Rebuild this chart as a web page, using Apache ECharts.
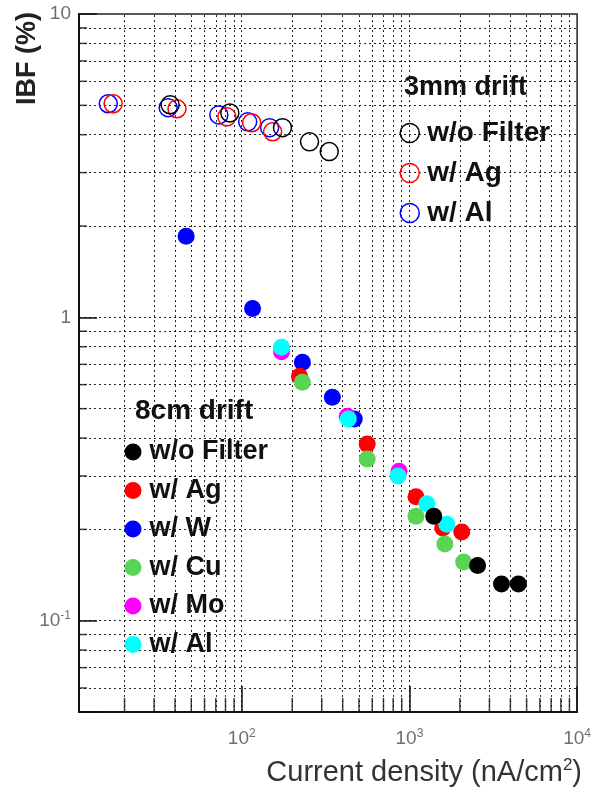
<!DOCTYPE html>
<html><head><meta charset="utf-8">
<script src="https://cdn.jsdelivr.net/npm/echarts@6/dist/echarts.min.js"></script>
<style>html,body{margin:0;padding:0;background:#fff}#c{width:594px;height:792px}</style>
</head><body><div id="c"></div>
<script>
// ---- axis ranges ----
const X_MIN = 10.7, X_MAX = 10000;
const Y_MIN = 0.05, Y_MAX = 10;

// ---- grid / tick values ----
const xMinorTicks = [20,30,40,50,60,70,80,90,200,300,400,500,600,700,800,900,2000,3000,4000,5000,6000,7000,8000,9000];
const xMajorTicks = [100,1000];
const yMinorTicks = [0.06,0.07,0.08,0.09,0.2,0.3,0.4,0.5,0.6,0.7,0.8,0.9,2,3,4,5,6,7,8,9];
const yMajorTicks = [0.1,1];

// ---- 3mm drift (open circles) ----
const mm3NoFilterX = [37.4, 84.9, 175, 253.6, 332.5];
const mm3NoFilterY = [5.02, 4.72, 4.22, 3.79, 3.52];
const mm3AgX = [17.1, 41.1, 81.5, 114.6, 152.8];
const mm3AgY = [5.06, 4.87, 4.58, 4.38, 4.09];
const mm3AlX = [16.0, 36.4, 73.0, 108.5, 146.6];
const mm3AlY = [5.06, 4.91, 4.65, 4.41, 4.22];

// ---- 8cm drift (filled circles) ----
const cm8NoFilterX = [1397, 2551, 3540, 4467];
const cm8NoFilterY = [0.221, 0.152, 0.132, 0.132];
const cm8AgX = [221, 560, 1094, 1581, 2051];
const cm8AgY = [0.64, 0.382, 0.256, 0.202, 0.196];
const cm8WX = [46.6, 116, 230, 347, 469];
const cm8WY = [1.85, 1.07, 0.711, 0.545, 0.462];
const cm8CuX = [230, 560, 1094, 1626, 2105];
const cm8CuY = [0.611, 0.341, 0.221, 0.179, 0.156];
const cm8MoX = [172.6, 426, 867];
const cm8MoY = [0.77, 0.472, 0.311];
const cm8AlX = [172.6, 432, 855, 1271, 1671];
const cm8AlY = [0.797, 0.462, 0.300, 0.243, 0.208];

const FONT = '"Liberation Sans", Arial, Helvetica, sans-serif';
const GREEN = '#59d454';

function zip(xs, ys){ return xs.map((x,i)=>[x, ys[i]]); }
function powLabel(v){
  const l = Math.log10(v), e = Math.round(l);
  if (Math.abs(l - e) > 1e-6) return '';
  if (e === 0) return '1';
  if (e === 1) return '10';
  return '10{sup|' + e + '}';
}

function openSeries(name, color, xs, ys){
  return { name: name, type: 'scatter', symbol: 'circle', symbolSize: 18, clip: false,
    itemStyle: { color: 'rgba(0,0,0,0)', borderColor: color, borderWidth: 1.5, opacity: 1 },
    data: zip(xs, ys), z: 3 };
}
function filledSeries(name, color, xs, ys){
  return { name: name, type: 'scatter', symbol: 'circle', symbolSize: 17, clip: false,
    itemStyle: { color: color, opacity: 1 }, data: zip(xs, ys), z: 3 };
}

const gridLineData = []
  .concat(xMinorTicks.concat(xMajorTicks).map(v => ({ xAxis: v })))
  .concat(yMinorTicks.concat(yMajorTicks).map(v => ({ yAxis: v })));

const chart = echarts.init(document.getElementById('c'), null, { renderer: 'canvas' });
const labelRich = { sup: { fontSize: 12, lineHeight: 12, verticalAlign: 'top', color: '#6f6f6f', fontFamily: FONT } };

chart.setOption({
  animation: false,
  backgroundColor: '#fff',
  grid: { left: 79, right: 13, top: 14, bottom: 80, show: true, borderColor: '#222', borderWidth: 1.5, backgroundColor: 'transparent' },
  xAxis: {
    type: 'log', logBase: 10, min: X_MIN, max: X_MAX,
    axisLine: { show: true, onZero: false, lineStyle: { color: '#111', width: 2 } },
    axisTick: { show: true, inside: true, length: 26, lineStyle: { color: '#111', width: 1.5 } },
    minorTick: { show: false }, splitLine: { show: false },
    axisLabel: { formatter: powLabel, fontFamily: FONT, fontSize: 19, lineHeight: 22, color: '#6f6f6f', margin: 16, rich: labelRich }
  },
  yAxis: {
    type: 'log', logBase: 10, min: Y_MIN, max: Y_MAX,
    axisLine: { show: true, onZero: false, lineStyle: { color: '#111', width: 2 } },
    axisTick: { show: true, inside: true, length: 18, lineStyle: { color: '#111', width: 1.5 } },
    minorTick: { show: false }, splitLine: { show: false },
    axisLabel: { formatter: powLabel, fontFamily: FONT, fontSize: 19, lineHeight: 22, color: '#6f6f6f', margin: 8, rich: labelRich }
  },
  title: [
    { text: 'Current density (nA/cm{sup|2})', right: 12, top: 757, padding: 0,
      textStyle: { fontFamily: FONT, fontSize: 29, fontWeight: 'normal', color: '#333', lineHeight: 32,
        rich: { sup: { fontFamily: FONT, fontSize: 17, lineHeight: 17, verticalAlign: 'top', color: '#333' } } } },
    { text: '3mm drift', left: 404, top: 74, padding: 0,
      textStyle: { fontFamily: FONT, fontSize: 27, fontWeight: 'bold', color: '#111' } },
    { text: '8cm drift', left: 135, top: 397, padding: 0,
      textStyle: { fontFamily: FONT, fontSize: 28, fontWeight: 'bold', color: '#111' } }
  ],
  graphic: [
    { type: 'text', x: 28, y: 12, rotation: Math.PI / 2,
      style: { text: 'IBF (%)', font: 'bold 27px ' + FONT, fill: '#222', align: 'right', verticalAlign: 'middle', textAlign: 'right', textVerticalAlign: 'middle' } }
  ],
  legend: [
    { orient: 'vertical', left: 399.5, top: 119, padding: 0, itemGap: 12, itemWidth: 19, itemHeight: 19,
      selectedMode: false, icon: 'circle',
      formatter: n => n.split('|')[1],
      textStyle: { fontFamily: FONT, fontSize: 28, fontWeight: 'bold', color: '#111', lineHeight: 28, padding: [0,0,0,3] },
      data: [
        { name: 'A|w/o Filter', itemStyle: { color: 'rgba(0,0,0,0)', borderColor: '#000', borderWidth: 1.5 } },
        { name: 'A|w/ Ag', itemStyle: { color: 'rgba(0,0,0,0)', borderColor: '#ff0000', borderWidth: 1.5 } },
        { name: 'A|w/ Al', itemStyle: { color: 'rgba(0,0,0,0)', borderColor: '#0000ff', borderWidth: 1.5 } }
      ] },
    { orient: 'vertical', left: 124.5, top: 438, padding: 0, itemGap: 10.5, itemWidth: 17, itemHeight: 17,
      selectedMode: false, icon: 'circle',
      formatter: n => n.split('|')[1],
      textStyle: { fontFamily: FONT, fontSize: 27, fontWeight: 'bold', color: '#111', lineHeight: 28, padding: [0,0,0,3] },
      data: ['B|w/o Filter', 'B|w/ Ag', 'B|w/ W', 'B|w/ Cu', 'B|w/ Mo', 'B|w/ Al'] }
  ],
  series: [
    { name: 'grid', type: 'scatter', data: [], silent: true,
      markLine: { silent: true, z: 1, symbol: ['none', 'none'], label: { show: false }, animation: false,
        lineStyle: { type: [2, 3], color: '#000', width: 1, opacity: 0.85 }, emphasis: { disabled: true },
        data: gridLineData } },
    { name: 'xminor', type: 'scatter', silent: true, clip: false, symbol: 'rect', symbolSize: [1.5, 14], symbolOffset: [0, -7],
      itemStyle: { color: '#111' }, data: xMinorTicks.map(v => [v, Y_MIN]), z: 2 },
    { name: 'yminor', type: 'scatter', silent: true, clip: false, symbol: 'rect', symbolSize: [8, 1.5], symbolOffset: [4, 0],
      itemStyle: { color: '#111' }, data: yMinorTicks.map(v => [X_MIN, v]), z: 2 },
    openSeries('A|w/ Al', '#0000ff', mm3AlX, mm3AlY),
    openSeries('A|w/ Ag', '#ff0000', mm3AgX, mm3AgY),
    openSeries('A|w/o Filter', '#000000', mm3NoFilterX, mm3NoFilterY),
    filledSeries('B|w/ W', '#0000ff', cm8WX, cm8WY),
    filledSeries('B|w/ Ag', '#ff0000', cm8AgX, cm8AgY),
    filledSeries('B|w/ Cu', GREEN, cm8CuX, cm8CuY),
    filledSeries('B|w/ Mo', '#ff00ff', cm8MoX, cm8MoY),
    filledSeries('B|w/ Al', '#00ffff', cm8AlX, cm8AlY),
    filledSeries('B|w/o Filter', '#000000', cm8NoFilterX, cm8NoFilterY)
  ]
});
</script>
</body></html>
